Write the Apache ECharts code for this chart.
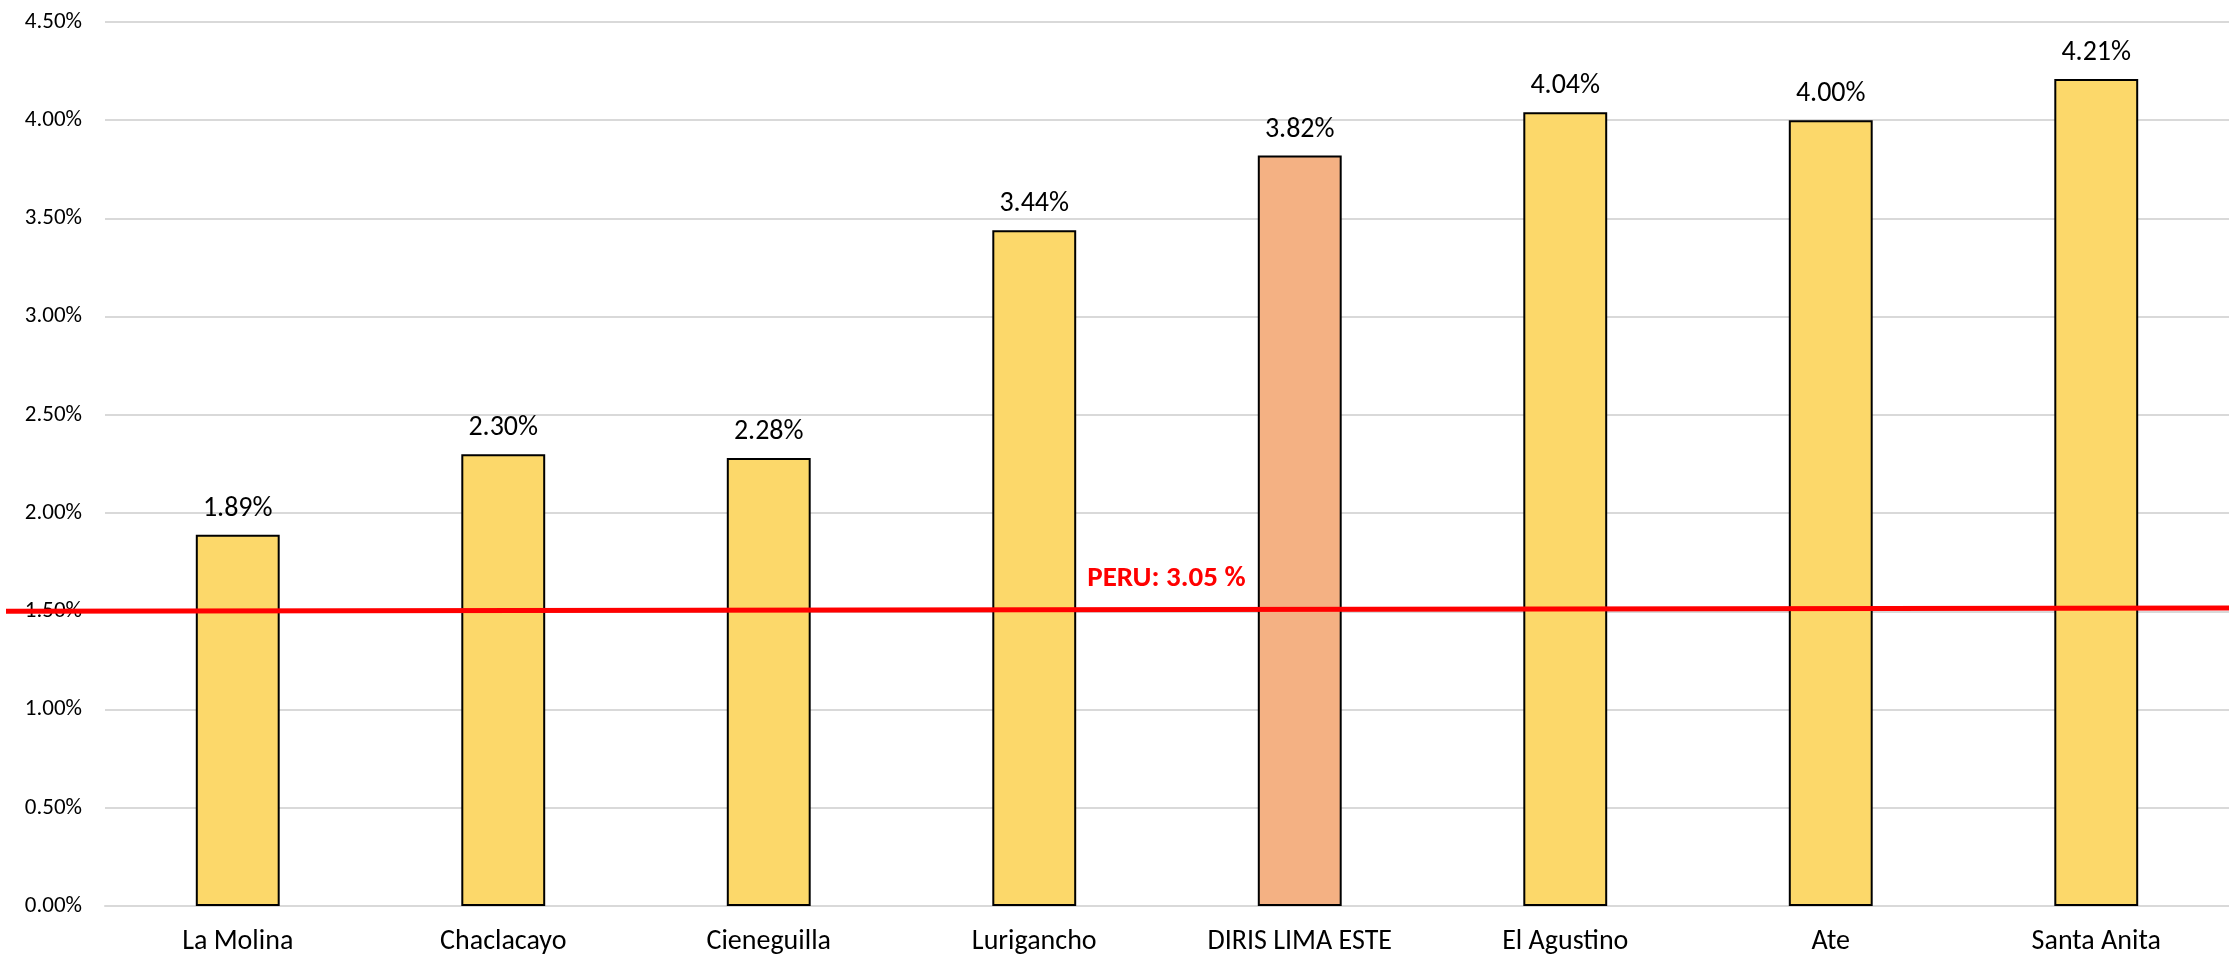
<!DOCTYPE html>
<html>
<head>
    <meta charset="utf-8">
    <title>DIRIS LIMA ESTE</title>
    <script src="https://cdn.jsdelivr.net/npm/echarts@6/dist/echarts.min.js"></script>
    <style type="text/css">
        html, body { margin: 0; padding: 0; background: #ffffff; }
        #chart { width: 2229px; height: 957px; }
    </style>
</head>
<body>
<div id="chart"></div>
<script>
    // datos del grafico
    var categories = ['La Molina', 'Chaclacayo', 'Cieneguilla', 'Lurigancho', 'DIRIS LIMA ESTE', 'El Agustino', 'Ate', 'Santa Anita'];
    var values = [1.89, 2.30, 2.28, 3.44, 3.82, 4.04, 4.00, 4.21];
    var highlight = 'DIRIS LIMA ESTE';
    var yTicks = [0, 0.5, 1, 1.5, 2, 2.5, 3, 3.5, 4, 4.5];
    // linea de referencia (como esta dibujada en la imagen)
    var refLine = [[0, 1.500], [1, 1.517]];
    var refLabel = 'PERU: 3.05 %';

    var fontFam = 'Carlito, Lato, "Open Sans", sans-serif';
    var chart = echarts.init(document.getElementById('chart'));

    var barData = values.map(function (v, i) {
        return {
            value: v,
            itemStyle: {color: categories[i] === highlight ? '#F4B183' : '#FCD86A'}
        };
    });

    var option = {
        animation: false,
        grid: [
            {left: 105, right: 0, top: 22, bottom: 51},
            {left: 6, right: 0, top: 22, bottom: 51}
        ],
        xAxis: [
            {
                type: 'category',
                gridIndex: 0,
                data: categories,
                axisLine: {lineStyle: {color: '#d9d9d9', width: 2}},
                axisTick: {show: false},
                axisLabel: {color: '#000', fontSize: 28, fontFamily: fontFam, margin: 22}
            },
            {type: 'value', gridIndex: 1, min: 0, max: 1, show: false}
        ],
        yAxis: [
            {
                type: 'value',
                gridIndex: 0,
                min: yTicks[0],
                max: yTicks[yTicks.length - 1],
                interval: 0.5,
                axisLine: {show: false},
                axisTick: {show: false},
                splitLine: {lineStyle: {color: '#d9d9d9', width: 2}},
                axisLabel: {
                    color: '#000', fontSize: 23, fontFamily: fontFam, margin: 23,
                    formatter: function (v) { return v.toFixed(2) + '%'; }
                }
            },
            {type: 'value', gridIndex: 1, min: 0, max: 4.5, show: false}
        ],
        series: [
            {
                type: 'bar',
                xAxisIndex: 0,
                yAxisIndex: 0,
                data: barData,
                barWidth: '31.6%',
                itemStyle: {borderColor: '#000', borderWidth: 2},
                label: {
                    show: true,
                    position: 'top',
                    distance: 12,
                    color: '#000',
                    fontSize: 28,
                    fontFamily: fontFam,
                    formatter: function (p) { return p.value.toFixed(2) + '%'; }
                }
            },
            {
                type: 'line',
                xAxisIndex: 1,
                yAxisIndex: 1,
                data: refLine,
                symbol: 'none',
                lineStyle: {color: '#FF0000', width: 5},
                z: 5,
                markPoint: {
                    symbol: 'circle',
                    symbolSize: 0,
                    data: [{coord: [0.522, 1.509]}],
                    label: {
                        show: true,
                        formatter: refLabel,
                        color: '#FF0000',
                        fontWeight: 'bold',
                        fontSize: 29,
                        fontFamily: fontFam,
                        offset: [0, -31]
                    }
                }
            }
        ]
    };
    chart.setOption(option);
</script>
</body>
</html>
